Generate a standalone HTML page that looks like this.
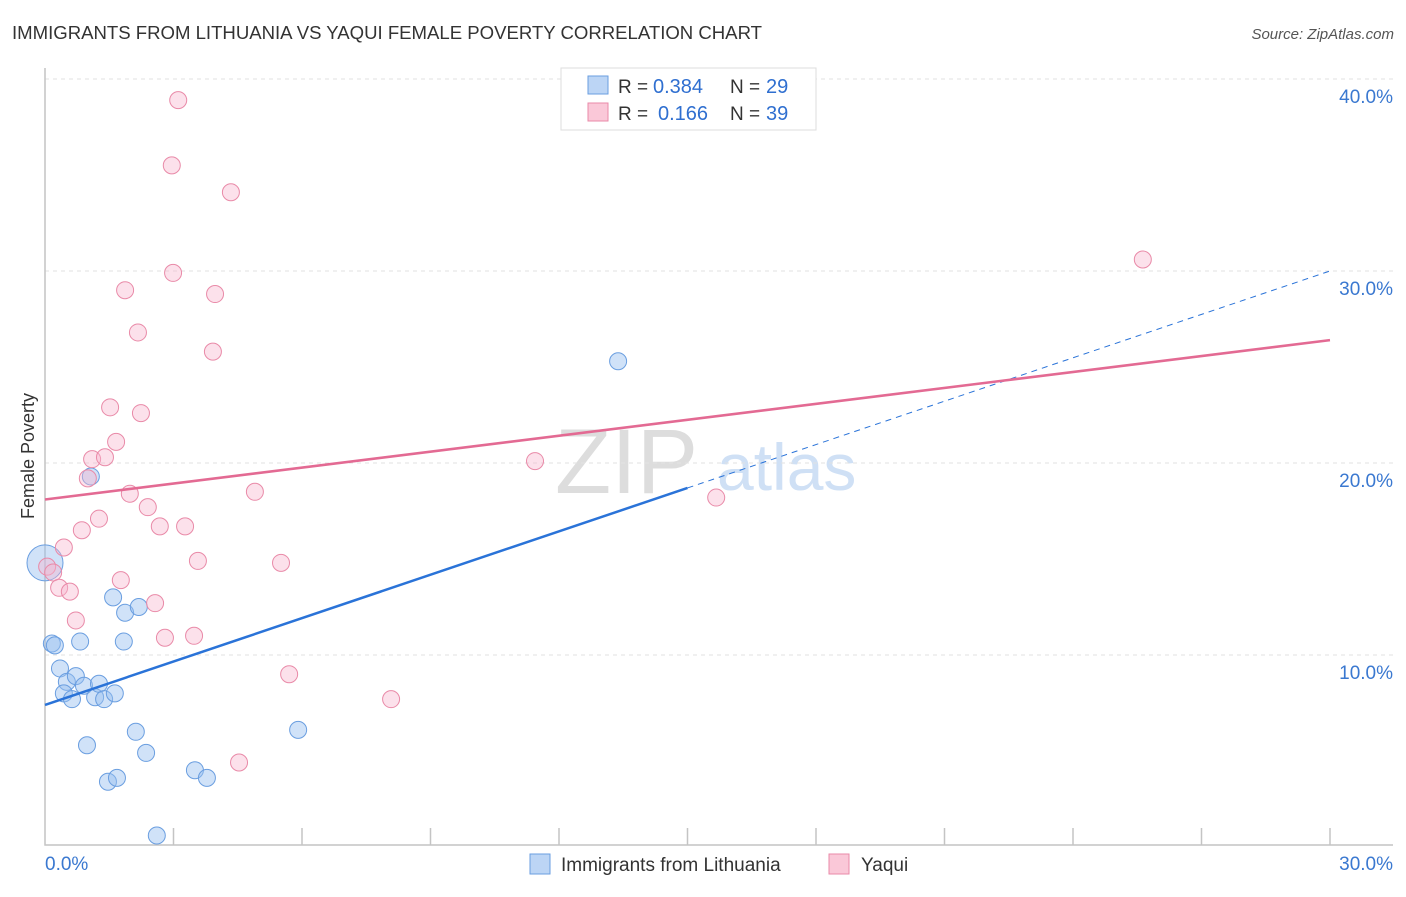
<!DOCTYPE html>
<html><head><meta charset="utf-8"><style>
body{margin:0;background:#fff;font-family:"Liberation Sans",sans-serif}
svg text{font-family:"Liberation Sans",sans-serif}
</style></head><body>
<svg width="1406" height="892">
<text x="12" y="39" font-size="18.6" fill="#333" textLength="750">IMMIGRANTS FROM LITHUANIA VS YAQUI FEMALE POVERTY CORRELATION CHART</text>
<text x="1394" y="39" font-size="15" fill="#555" font-style="italic" text-anchor="end">Source: ZipAtlas.com</text>
<g><text x="555" y="493" font-size="92" fill="#ddd" font-family="Liberation Serif">ZIP</text><text x="717" y="490" font-size="66" fill="#cfe0f5">atlas</text></g>
<g id="grid"></g><g id="axes"></g><g id="pts"></g><g id="lines"></g>
<text transform="translate(34,456) rotate(-90)" font-size="18" fill="#333" text-anchor="middle">Female Poverty</text>
<g>
<rect x="561" y="68" width="255" height="62" fill="#fff" stroke="#ddd"/>
<rect x="588" y="76" width="20" height="18" fill="#bcd5f5" stroke="#6a9ee0"/>
<rect x="588" y="103" width="20" height="18" fill="#fac8d8" stroke="#e98aa8"/>
<text x="618" y="93" font-size="19" fill="#333">R =</text><text x="653" y="93" font-size="20" fill="#2f6fd0">0.384</text>
<text x="730" y="93" font-size="19" fill="#333">N =</text><text x="766" y="93" font-size="20" fill="#2f6fd0">29</text>
<text x="618" y="120" font-size="19" fill="#333">R =</text><text x="658" y="120" font-size="20" fill="#2f6fd0">0.166</text>
<text x="730" y="120" font-size="19" fill="#333">N =</text><text x="766" y="120" font-size="20" fill="#2f6fd0">39</text>
</g>
<g>
<rect x="530" y="854" width="20" height="20" fill="#bcd5f5" stroke="#6a9ee0"/>
<text x="561" y="871" font-size="19" fill="#333">Immigrants from Lithuania</text>
<rect x="829" y="854" width="20" height="20" fill="#fac8d8" stroke="#e98aa8"/>
<text x="861" y="871" font-size="19" fill="#333">Yaqui</text>
</g>
</svg>
<script>
const yTicks=[10,20,30,40];
const xTickLabels=["0.0%","30.0%"];
const blueX=[0,0.16,0.23,0.35,0.51,0.44,0.63,0.72,0.82,0.91,0.98,1.07,1.17,1.26,1.38,1.47,1.63,1.68,1.59,1.87,1.84,2.19,2.12,2.36,2.61,3.5,3.78,5.91,13.38];
const blueY=[14.8,10.6,10.5,9.3,8.6,8.0,7.7,8.9,10.7,8.4,5.3,19.3,7.8,8.5,7.7,3.4,8.0,3.6,13.0,12.2,10.7,12.5,6.0,4.9,0.6,4.0,3.6,6.1,25.3];
const pinkX=[3.11,2.96,4.34,2.99,1.87,3.97,2.17,3.92,1.52,2.24,1.66,1.10,1.40,1.00,4.90,1.98,2.40,1.26,2.68,3.27,0.86,0.44,3.57,5.51,0.05,0.19,1.77,0.33,0.58,2.57,0.72,2.80,3.48,5.70,8.08,4.53,11.44,15.67,25.63];
const pinkY=[38.9,35.5,34.1,29.9,29.0,28.8,26.8,25.8,22.9,22.6,21.1,20.2,20.3,19.2,18.5,18.4,17.7,17.1,16.7,16.7,16.5,15.6,14.9,14.8,14.6,14.3,13.9,13.5,13.3,12.7,11.8,10.9,11.0,9.0,7.7,4.4,20.1,18.2,30.6];
const blueFit=[7.4,18.7];   // y at x=0 and x=15
const pinkFit=[18.1,26.4];  // y at x=0 and x=30
const X=v=>45+v/30*1285, Y=v=>847-v*19.2;
const NS="http://www.w3.org/2000/svg";
function mk(p,t,a){const e=document.createElementNS(NS,t);for(const k in a)e.setAttribute(k,a[k]);document.getElementById(p).appendChild(e);return e;}
yTicks.forEach(t=>{
 const l=mk('grid','line',{x1:45,x2:1393,y1:Y(t),y2:Y(t),stroke:'#e2e2e2','stroke-dasharray':'4,4'});
 
 
 const tx=mk('grid','text',{x:1393,y:Y(t)+24,'font-size':19,fill:'#3a78d0','text-anchor':'end'});tx.textContent=t.toFixed(1)+'%';
 
 
});
const ax=mk('axes','path',{d:'M45,68V845H1393',fill:'none',stroke:'#c4c4c4','stroke-width':1.5});


for(let i=1;i<=10;i++){const tk=mk('axes','line',{x1:X(i*3),x2:X(i*3),y1:828,y2:845,stroke:'#c4c4c4','stroke-width':1.5});
 
 }
xTickLabels.forEach((s,i)=>{const t=mk('axes','text',{x:i?1393:45,y:870,'font-size':19,fill:'#3a78d0','text-anchor':i?'end':'start'});t.textContent=s;
 
 });
blueX.forEach((x,i)=>{const c=mk('pts','circle',{cx:X(x),cy:Y(blueY[i]),r:i==0?18:8.5,fill:'rgba(150,190,240,0.45)',stroke:'#6a9ee0','stroke-width':1});
 
 });
pinkX.forEach((x,i)=>{const c=mk('pts','circle',{cx:X(x),cy:Y(pinkY[i]),r:8.5,fill:'rgba(248,180,205,0.4)',stroke:'#e98aa8','stroke-width':1});
 
 });
const slope=(blueFit[1]-blueFit[0])/15;
const bl=mk('lines','line',{x1:X(0),y1:Y(blueFit[0]),x2:X(15),y2:Y(blueFit[1]),stroke:'#2a73d8','stroke-width':2.5});


const bd=mk('lines','line',{x1:X(15),y1:Y(blueFit[1]),x2:X(30),y2:Y(blueFit[0]+slope*30),stroke:'#2a73d8','stroke-width':1,'stroke-dasharray':'6,5'});


const pl=mk('lines','line',{x1:X(0),y1:Y(pinkFit[0]),x2:X(30),y2:Y(pinkFit[1]),stroke:'#e36a93','stroke-width':2.5});


</script>
</body></html>
